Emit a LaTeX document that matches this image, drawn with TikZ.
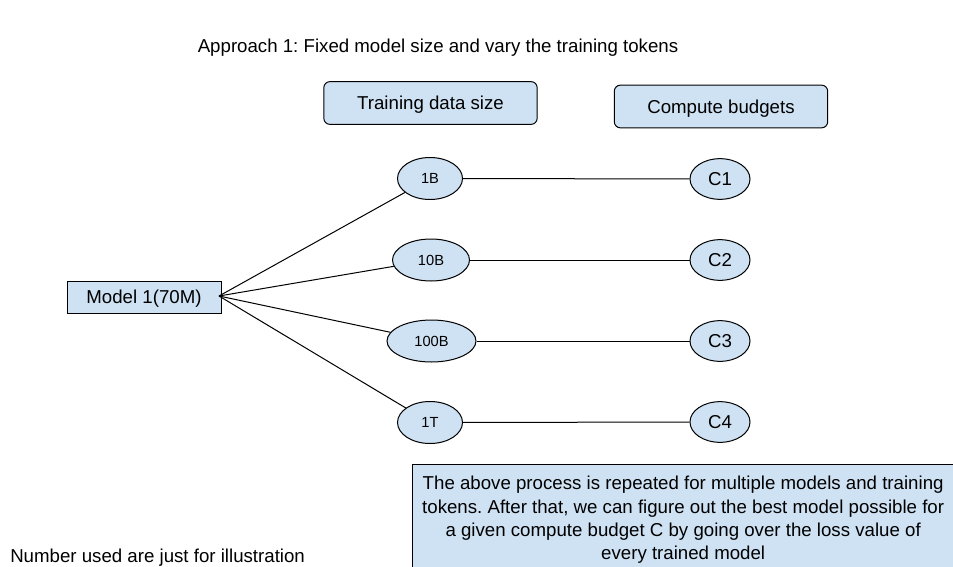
\documentclass[tikz,border=0pt]{standalone}
\usepackage{fontspec}
\setmainfont{Liberation Sans}
\usetikzlibrary{shapes.geometric}
\definecolor{boxblue}{HTML}{CFE2F3}
\frenchspacing
\begin{document}
\begin{tikzpicture}[x=0.75pt,y=-0.75pt,
  every node/.style={font=\fontsize{14}{17}\selectfont\frenchspacing, text=black},
  headbox/.style={draw, fill=boxblue, rounded corners=4.5pt, line width=0.75pt, minimum width=160pt, minimum height=32pt, text depth=0pt},
  modelbox/.style={draw, fill=boxblue, line width=0.75pt, minimum width=115.5pt, minimum height=24pt, text depth=0pt},
  databub/.style={draw, fill=boxblue, ellipse, inner sep=0pt, line width=0.75pt, minimum height=31.5pt, font=\fontsize{11}{13}\selectfont},
  cbub/.style={draw, fill=boxblue, ellipse, inner sep=0pt, line width=0.75pt, minimum width=45pt, minimum height=30.5pt},
  link/.style={line width=0.75pt}]
\useasboundingbox (0,0) rectangle (953,567);
\clip (0,0) rectangle (953,567);
\fill[white] (0,0) rectangle (953,567);

\node[text depth=0pt] (title) at (438,46) {Approach 1: Fixed model size and vary the training tokens};
\node[headbox] (tds) at (430.5,103) {Training data size};
\node[headbox] (cb) at (721,106.5) {Compute budgets};

\node[modelbox] (model) at (144,297) {Model 1(70M)};
\coordinate (hub) at (219,296);

\node[databub, minimum width=48.75pt] (d1) at (430,178.5) {1B};
\node[databub, minimum width=57.75pt] (d2) at (431,260) {10B};
\node[databub, minimum width=66.75pt] (d3) at (431.5,341) {100B};
\node[databub, minimum width=48.75pt] (d4) at (430,422.5) {1T};

\node[cbub] (c1) at (720,179) {C1};
\node[cbub] (c2) at (720,260) {C2};
\node[cbub] (c3) at (720,341) {C3};
\node[cbub] (c4) at (720,422) {C4};

\foreach \i in {1,2,3,4} {
  \draw[link] (hub) -- (d\i);
  \draw[link] (d\i) -- (c\i);
}

\node[draw, fill=boxblue, line width=0.75pt, minimum width=406pt, minimum height=83pt, align=center, anchor=north west, font=\fontsize{14}{17.4}\selectfont\frenchspacing] (note) at (412,464)
  {The above process is repeated for multiple models and training\\tokens. After that, we can figure out the best model possible for\\a given compute budget C by going over the loss value of\\every trained model};

\node[anchor=west, inner sep=0pt, text depth=0pt] (foot) at (10,556) {Number used are just for illustration};
\end{tikzpicture}
\end{document}
